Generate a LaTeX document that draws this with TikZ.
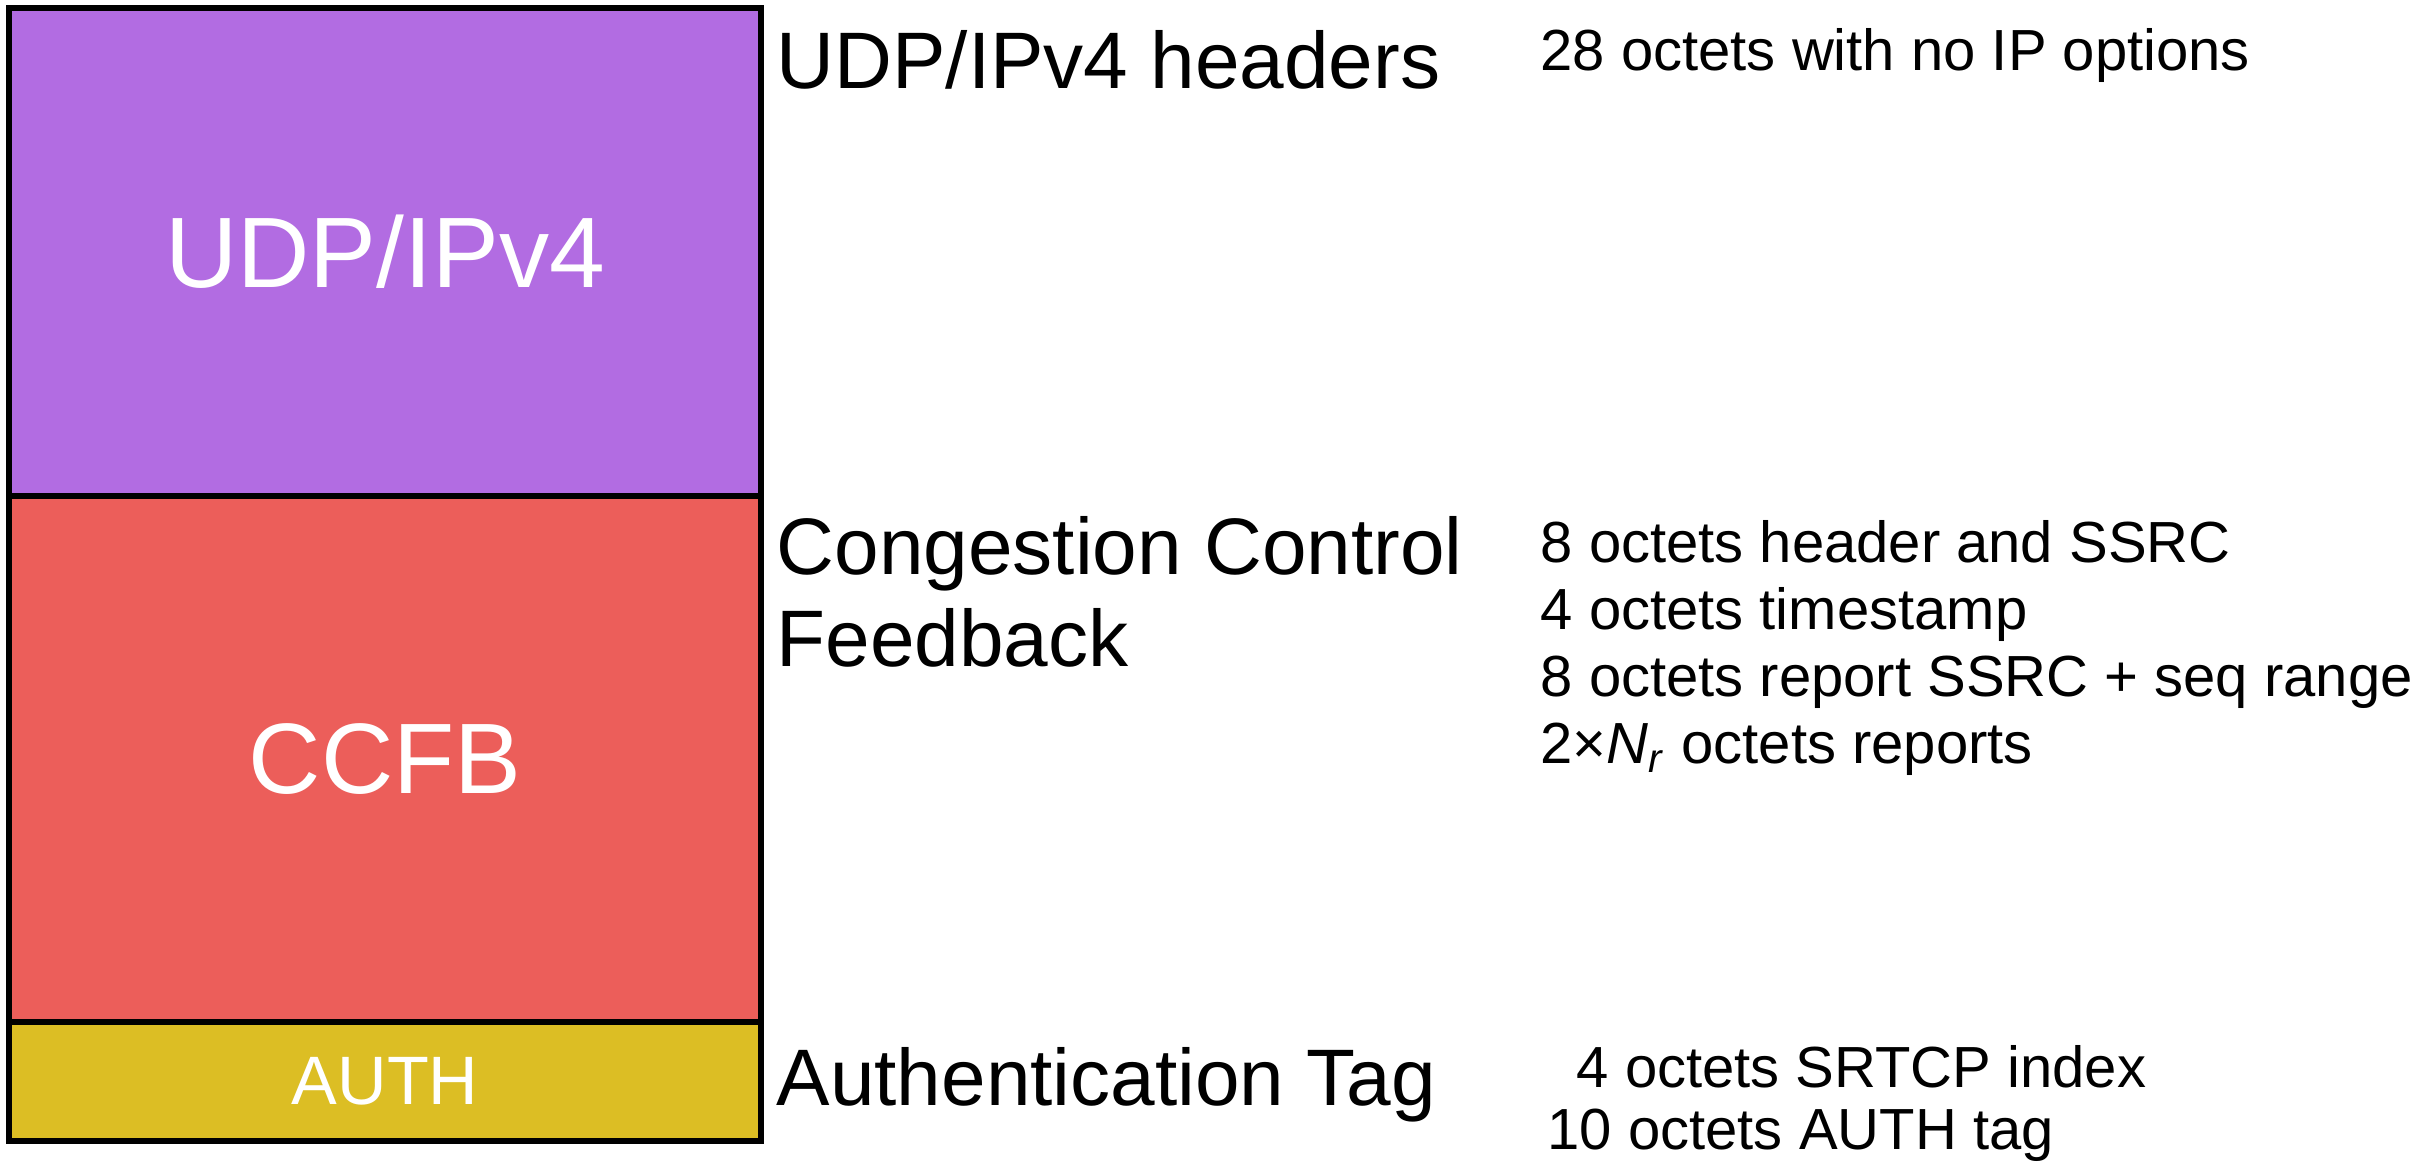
\documentclass[tikz,border=0pt]{standalone}
\usepackage{fontspec}
\setmainfont{Liberation Sans}
\usetikzlibrary{positioning}
\definecolor{udpfill}{RGB}{178,108,226}
\definecolor{ccfbfill}{RGB}{236,94,90}
\definecolor{authfill}{RGB}{220,190,36}
\def\boxwidth{7.52cm}
\def\labelx{7.76}
\def\detailx{15.40}
\def\detailstep{0.67}
\tikzset{
    layer/.style={draw=black, line width=1.8pt, minimum width=\boxwidth, inner sep=0pt,
        anchor=north west, text=white},
    bigname/.style={font=\fontsize{28.5}{34}\selectfont},
    heading/.style={anchor=base west, inner sep=0pt,
        font=\fontsize{22.8}{26.2}\selectfont},
    detail/.style={anchor=base west, inner sep=0pt, font=\fontsize{16.5}{19}\selectfont}
}
\newcommand{\layerbox}[5]{
    \node[layer, bigname, fill=#2, minimum height=#4] (#1) at (0.06,-#3) {#5};
}

\begin{document}
\begin{tikzpicture}
    \useasboundingbox (0,0) rectangle (24.18,-11.66);
    % the packet, top to bottom
    \layerbox{udp}{udpfill}{0.05}{4.88cm}{UDP/IPv4}
    \layerbox{ccfb}{ccfbfill}{4.93}{5.26cm}{CCFB}
    \node[layer, fill=authfill, minimum height=1.19cm,
        font=\fontsize{19.5}{23}\selectfont] (auth) at (0.06,-10.19) {AUTH};
    % what each part is
    \node[heading] (udp-name) at (\labelx,-0.88) {UDP/IPv4 headers};
    \node[heading] (ccfb-name) at (\labelx,-5.74) {Congestion Control};
    \node[heading] (ccfb-name-2) at (\labelx,-6.66) {Feedback};
    \node[heading] (auth-name) at (\labelx,-11.05) {Authentication Tag};
    % sizes
    \node[detail] (udp-size) at (\detailx,-0.71) {28 octets with no IP options};
    \foreach \txt [count=\i] in {8 octets header and SSRC, 4 octets timestamp,
        8 octets report SSRC + seq range,
        2×\textit{N}\textsubscript{\textit{r}} octets reports}
        \node[detail] (ccfb-size-\i) at (\detailx,{-5.62-\detailstep*(\i-1)}) {\txt};
    \node[detail] (auth-size-1) at (15.76,-10.87) {4 octets SRTCP index};
    \node[detail] (auth-size-2) at (15.47,-11.49) {10 octets AUTH tag};
\end{tikzpicture}
\end{document}
